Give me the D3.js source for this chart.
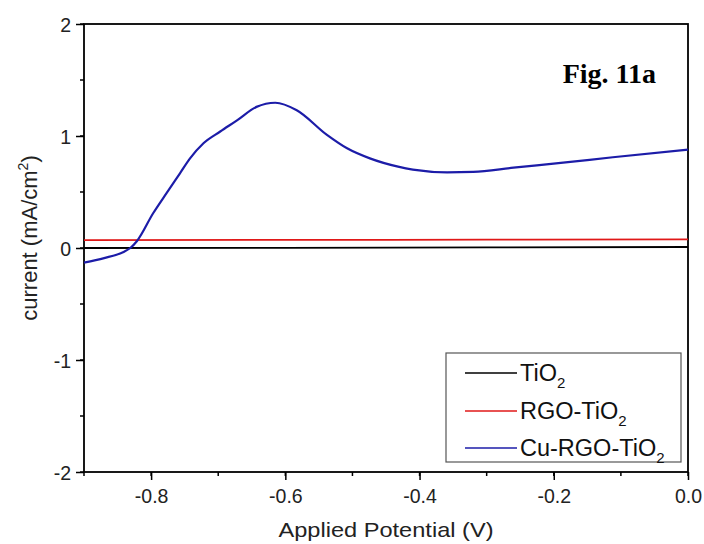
<!DOCTYPE html>
<html><head><meta charset="utf-8">
<script src="https://cdn.jsdelivr.net/npm/d3@7"></script>
<style>body{margin:0;background:#fff}</style>
</head><body>
<svg id="c" width="704" height="544"></svg>
<script>
const xTicks = [-0.8, -0.6, -0.4, -0.2, 0.0];
const yTicks = [-2, -1, 0, 1, 2];
const seriesNames = ["TiO2", "RGO-TiO2", "Cu-RGO-TiO2"];
const seriesColors = ["#000000", "#e01818", "#1c1ca8"];
const tio2 = [[-0.9,0.0],[-0.6,0.002],[-0.3,0.005],[0.0,0.009]];
const rgo = [[-0.9,0.071],[-0.6,0.072],[-0.3,0.074],[0.0,0.077]];
const cu = [[-0.9,-0.13],[-0.87,-0.09],[-0.841,-0.035],[-0.831,0.0],[-0.821,0.063],[-0.797,0.31],[-0.777,0.49],[-0.757,0.667],[-0.742,0.80],[-0.722,0.935],[-0.697,1.04],[-0.672,1.14],[-0.643,1.26],[-0.615,1.297],[-0.583,1.23],[-0.538,1.01],[-0.508,0.89],[-0.474,0.80],[-0.432,0.726],[-0.41,0.70],[-0.359,0.676],[-0.32,0.679],[-0.26,0.717],[-0.186,0.762],[-0.112,0.81],[0.0,0.878]];

const svg = d3.select("#c");
const L=84,R=688,T=24,B=472;
const FONT="Liberation Sans, Arial, sans-serif";
const x = d3.scaleLinear().domain([-0.9,0]).range([L,R]);
const y = d3.scaleLinear().domain([-2,2]).range([B,T]);

const g = svg.append("g");
g.selectAll(".mx").data(d3.range(-0.9,0.001,0.1).map(v=>+v.toFixed(2))).enter().append("line")
  .attr("x1",d=>x(d)).attr("x2",d=>x(d)).attr("y1",B).attr("y2",B+4).attr("stroke","#000").attr("stroke-width",1.5);
g.selectAll(".my").data(d3.range(-2,2.001,0.5)).enter().append("line")
  .attr("y1",d=>y(d)).attr("y2",d=>y(d)).attr("x1",L).attr("x2",L-4).attr("stroke","#000").attr("stroke-width",1.5);

const xAxis = svg.append("g").attr("transform",`translate(0,${B})`)
  .call(d3.axisBottom(x).tickValues(xTicks).tickSize(8).tickPadding(9));
const yAxis = svg.append("g").attr("transform",`translate(${L},0)`)
  .call(d3.axisLeft(y).tickValues(yTicks).tickSize(8).tickPadding(5));
xAxis.selectAll("text").text(d=>d3.format(".1f")(d).replace("−","-"));
yAxis.selectAll("text").text(d=>d3.format("d")(d).replace("−","-"));
[xAxis,yAxis].forEach(a=>{
  a.selectAll("path").remove();
  a.selectAll("line").attr("stroke","#000").attr("stroke-width",1.5);
  a.selectAll("text").attr("font-family",FONT).attr("font-size",19.5).attr("fill","#222");
});
yAxis.selectAll("text").attr("dy","0.36em");

svg.append("rect").attr("x",L).attr("y",T).attr("width",R-L).attr("height",B-T)
  .attr("fill","none").attr("stroke","#000").attr("stroke-width",1.8);

const line = d3.line().x(d=>x(d[0])).y(d=>y(d[1])).curve(d3.curveMonotoneX);
[tio2,rgo,cu].forEach((s,i)=>{
  svg.append("path").datum(s).attr("d",line).attr("fill","none")
    .attr("stroke",seriesColors[i]).attr("stroke-width",i==2?2.2:1.8);
});

// legend
svg.append("rect").attr("x",446).attr("y",353).attr("width",235).attr("height",109)
  .attr("fill","#fff").attr("stroke","#555").attr("stroke-width",1.2);
const rows=[373,411,448];
seriesNames.forEach((n,i)=>{
  svg.append("line").attr("x1",465).attr("x2",517).attr("y1",rows[i]).attr("y2",rows[i])
    .attr("stroke",seriesColors[i]).attr("stroke-width",1.6);
  const t = svg.append("text").attr("x",520).attr("y",rows[i]+8)
    .attr("font-family",FONT).attr("font-size",23.5).attr("fill","#111");
  t.append("tspan").text(n.slice(0,-1));
  t.append("tspan").text("2").attr("font-size",15).attr("dy",7);
});

svg.append("text").attr("x",386).attr("y",537).attr("text-anchor","middle")
  .attr("font-family",FONT).attr("font-size",21).attr("fill","#222")
  .attr("textLength",215).attr("lengthAdjust","spacingAndGlyphs")
  .text("Applied Potential (V)");
const yl = svg.append("text").attr("transform","translate(37,238) rotate(-90)").attr("text-anchor","middle")
  .attr("font-family",FONT).attr("font-size",22).attr("fill","#222");
yl.append("tspan").text("current (mA/cm");
yl.append("tspan").text("2").attr("font-size",14).attr("dy",-9);
yl.append("tspan").text(")").attr("dy",9);

svg.append("text").attr("x",656).attr("y",83).attr("text-anchor","end")
  .attr("font-family","Liberation Serif, Times New Roman, serif").attr("font-weight","bold").attr("font-size",28)
  .text("Fig. 11a");
</script>
</body></html>
